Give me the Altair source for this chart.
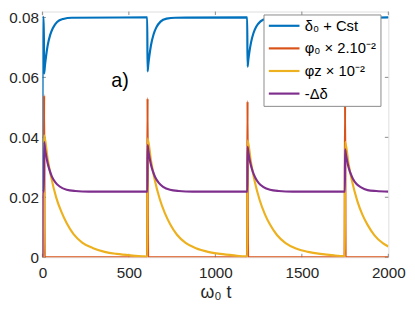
import altair as alt
import pandas as pd

series_names = ["δ₀ + Cst", "φ₀ × 2.10⁻²", "φz × 10⁻²", "-Δδ"]
series_colors = ["#0072BD", "#D95319", "#EDB120", "#7E2F8E"]

# delta_0 + Cst (blue)
delta_t = [0, 2, 8, 10, 15, 20, 30, 45, 60, 85, 120, 170,
           606, 608, 613, 618, 628, 643, 658, 683, 718, 768,
           1184, 1186, 1191, 1196, 1206, 1221, 1236, 1261, 1296, 1346,
           1748, 1750, 1755, 1760, 1770, 1785, 1800, 1825, 1860, 1910, 2000]
delta_v = [0.022, 0.080, 0.080, 0.0613, 0.0641, 0.0665, 0.0705, 0.0742, 0.0764, 0.0785, 0.0795, 0.0799,
           0.080, 0.062, 0.0647, 0.0670, 0.0708, 0.0744, 0.0766, 0.0786, 0.0796, 0.0799,
           0.080, 0.0636, 0.0661, 0.0682, 0.0716, 0.0749, 0.0769, 0.0787, 0.0796, 0.0799,
           0.080, 0.064, 0.0664, 0.0685, 0.0718, 0.0750, 0.0770, 0.0787, 0.0796, 0.0799, 0.080]

# phi_0 x 2.10^-2 (orange)
phi0_t = [0, 7, 10, 13, 605, 608, 611, 1183, 1186, 1189, 1747, 1750, 1753, 2000]
phi0_v = [0, 0, 0.054, 0, 0, 0.053, 0, 0, 0.052, 0, 0, 0.052, 0, 0]

# phi_z x 10^-2 (yellow)
phiz_t = [0, 9, 10, 30, 50, 80, 110, 140, 180, 230, 290, 360, 430, 510, 580, 607,
          608, 628, 648, 678, 708, 738, 778, 828, 888, 958, 1028, 1108, 1178, 1185,
          1186, 1206, 1226, 1256, 1286, 1316, 1356, 1406, 1466, 1536, 1606, 1686, 1749,
          1750, 1770, 1790, 1820, 1850, 1880, 1920, 1970, 2000]
phiz_v = [0, 0, 0.0407, 0.0330, 0.0269, 0.0199, 0.0151, 0.0114, 0.0077, 0.0049, 0.0031, 0.0018, 0.0011, 0.0006, 0.0003, 0.0002,
          0.0397, 0.0322, 0.0262, 0.0195, 0.0147, 0.0111, 0.0075, 0.0048, 0.0030, 0.0018, 0.0011, 0.0006, 0.0003, 0.0003,
          0.0390, 0.0316, 0.0257, 0.0191, 0.0144, 0.0109, 0.0074, 0.0047, 0.0029, 0.0018, 0.0011, 0.0006, 0.0004,
          0.0385, 0.0312, 0.0254, 0.0189, 0.0142, 0.0108, 0.0073, 0.0046, 0.0036]

# -Delta delta (purple)
ddelta_t = [0, 1, 9, 10, 15, 20, 30, 40, 55, 75, 100, 140, 190, 270, 607,
            608, 613, 618, 628, 638, 653, 673, 698, 738, 788, 868, 1185,
            1186, 1191, 1196, 1206, 1216, 1231, 1251, 1276, 1316, 1366, 1446, 1749,
            1750, 1755, 1760, 1770, 1780, 1795, 1815, 1840, 1880, 1930, 2000]
ddelta_v = [0, 0.022, 0.0219, 0.0384, 0.0362, 0.0344, 0.0314, 0.0293, 0.0269, 0.0250, 0.0236, 0.0225, 0.0221, 0.0219, 0.0219,
            0.0374, 0.0354, 0.0337, 0.0308, 0.0288, 0.0266, 0.0248, 0.0235, 0.0225, 0.0221, 0.0219, 0.0219,
            0.0368, 0.0349, 0.0332, 0.0305, 0.0286, 0.0265, 0.0247, 0.0235, 0.0225, 0.0221, 0.0219, 0.0219,
            0.0360, 0.0342, 0.0326, 0.0300, 0.0282, 0.0262, 0.0245, 0.0234, 0.0224, 0.0221, 0.0219]

x_ticks = [0, 500, 1000, 1500, 2000]
y_ticks = [0, 0.02, 0.04, 0.06, 0.08]
annot_text = ["a)"]
annot_t = [398]
annot_v = [0.0567]

X_MAX = 2000
Y_MAX = 0.08197
TICK_DY = 0.00115  # inward tick length in y units
TICK_DX = 20       # inward tick length in x units

all_t = [delta_t, phi0_t, phiz_t, ddelta_t]
all_v = [delta_v, phi0_v, phiz_v, ddelta_v]
rows = []
for name, ts, vs in zip(series_names, all_t, all_v):
    for t, v in zip(ts, vs):
        rows.append({"series": name, "t": t, "v": v})
df = pd.DataFrame(rows)

FONT = "Liberation Sans"
GRAY = "#8a8a8a"
TXT = "#262626"

x_scale = alt.Scale(domain=[0, X_MAX], nice=False, zero=False)
y_scale = alt.Scale(domain=[0, Y_MAX], nice=False, zero=False)
color_scale = alt.Scale(domain=series_names, range=series_colors)

x_axis = alt.Axis(values=x_ticks, format="d", ticks=False, domain=False, grid=False,
                  labelFlush=False, labelOverlap=False,
                  labelFont=FONT, labelFontSize=15.5, labelColor=TXT, labelPadding=9,
                  title="ω₀ t", titleFont=FONT, titleFontSize=18, titleFontWeight="normal",
                  titleColor=TXT, titleY=41, titleBaseline="alphabetic")
y_axis = alt.Axis(values=y_ticks, format=".2~f", ticks=False, domain=False, grid=False,
                  labelFlush=False, labelOverlap=False,
                  labelFont=FONT, labelFontSize=15.5, labelColor=TXT, labelPadding=4,
                  title=None)
legend = alt.Legend(title=None, orient="none", legendX=225, legendY=3,
                    fillColor="white", strokeColor=GRAY, padding=4,
                    symbolType="M-2.6,0H2.6", symbolSize=144, symbolStrokeWidth=2.2,
                    symbolOffset=9.5,
                    labelFont=FONT, labelFontSize=15, labelColor="black", labelOffset=13.5,
                    rowPadding=7)

layers = []
for name in series_names:
    layers.append(
        alt.Chart(df)
        .transform_filter(alt.datum.series == name)
        .mark_line(strokeWidth=2.2, interpolate="monotone", clip=True)
        .encode(
            x=alt.X("t:Q", scale=x_scale, axis=x_axis),
            y=alt.Y("v:Q", scale=y_scale, axis=y_axis),
            color=alt.Color("series:N", scale=color_scale, legend=legend),
        )
    )

xt = pd.DataFrame({"t": x_ticks})
yt = pd.DataFrame({"v": y_ticks})
tick_bottom = alt.Chart(xt).mark_rule(color=GRAY, strokeWidth=1).encode(
    x=alt.X("t:Q", scale=x_scale), y=alt.YDatum(0), y2=alt.Y2Datum(TICK_DY))
tick_top = alt.Chart(xt).mark_rule(color=GRAY, strokeWidth=1).encode(
    x=alt.X("t:Q", scale=x_scale), y=alt.YDatum(Y_MAX), y2=alt.Y2Datum(Y_MAX - TICK_DY))
tick_left = alt.Chart(yt).mark_rule(color=GRAY, strokeWidth=1).encode(
    y=alt.Y("v:Q", scale=y_scale), x=alt.XDatum(0), x2=alt.X2Datum(TICK_DX))
tick_right = alt.Chart(yt).mark_rule(color=GRAY, strokeWidth=1).encode(
    y=alt.Y("v:Q", scale=y_scale), x=alt.XDatum(X_MAX), x2=alt.X2Datum(X_MAX - TICK_DX))

ann = alt.Chart(pd.DataFrame({"t": annot_t, "v": annot_v, "label": annot_text})).mark_text(
    font=FONT, fontSize=20, align="left", baseline="alphabetic", color="black").encode(
    x=alt.X("t:Q", scale=x_scale), y=alt.Y("v:Q", scale=y_scale), text="label:N")

chart = alt.layer(tick_bottom, tick_top, tick_left, tick_right, ann, *layers).properties(
    width=352, height=250,
    padding={"left": 35, "top": 1, "right": 19, "bottom": 45},
    autosize=alt.AutoSizeParams(type="none"),
).configure_view(stroke=GRAY, strokeWidth=1).configure(background="white")

chart.save("out.html", embed_options={"renderer": "svg", "actions": False})
